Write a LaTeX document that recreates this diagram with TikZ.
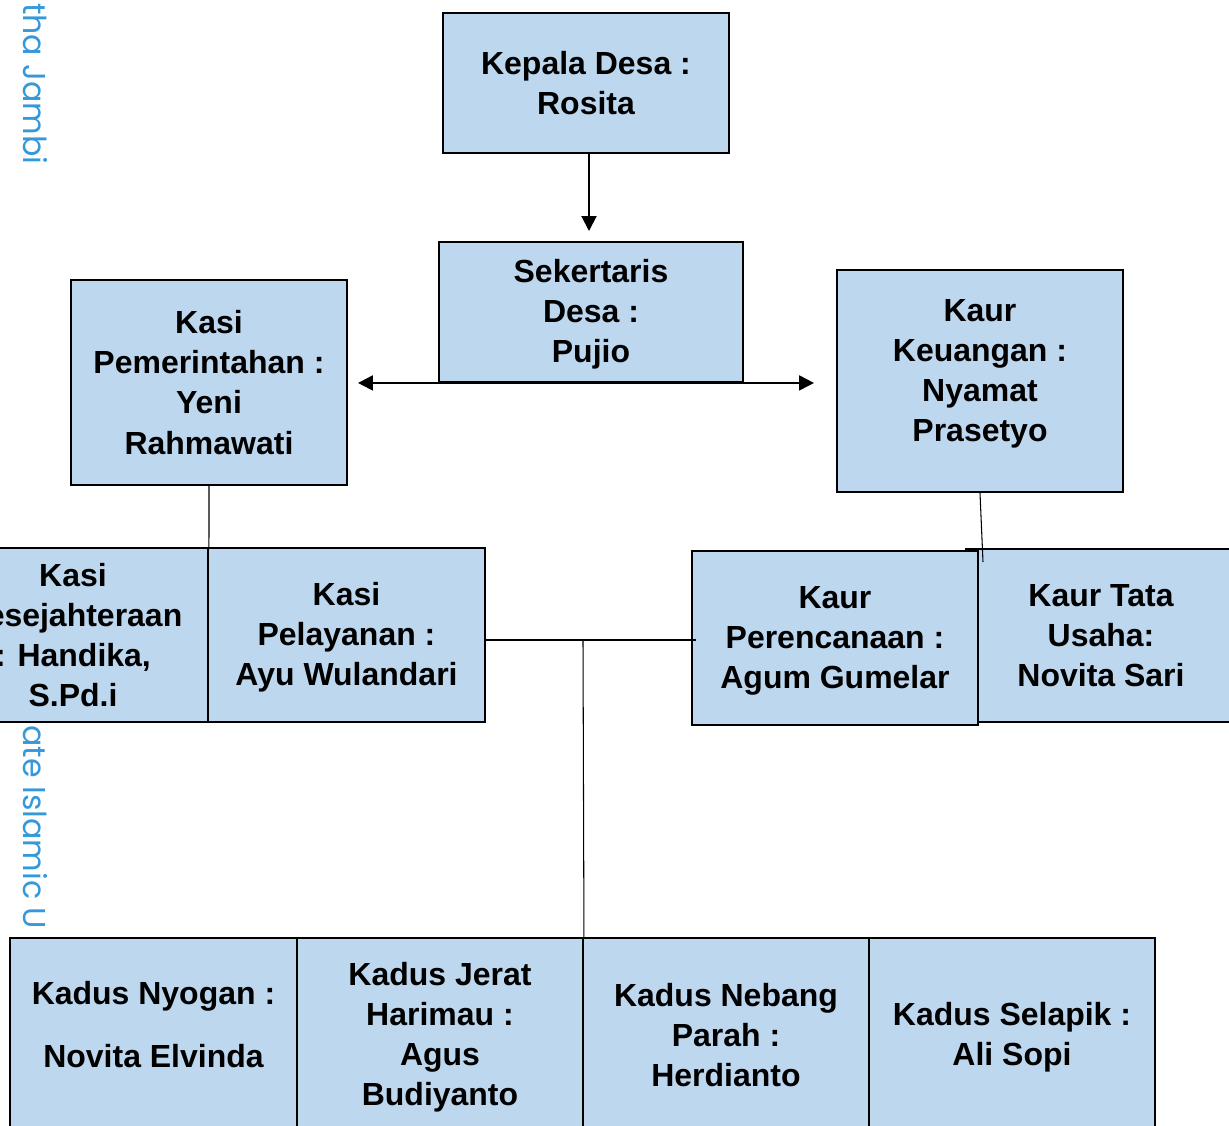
\documentclass[tikz,border=0pt]{standalone}
\usepackage{fontspec}
\setmainfont{Liberation Sans}
\newfontfamily\wmfont{Poppins}
\usetikzlibrary{arrows.meta,positioning,calc}
\definecolor{orgblue}{RGB}{189,215,238}
\definecolor{wmblue} {RGB}{52,152,219}

\begin{document}
\begin{tikzpicture}[
  >=Stealth,
  obox/.style 2 args={draw=black,line width=1.1pt,fill=orgblue,
                      minimum width=#1,minimum height=#2,inner sep=0pt},
  olabel/.style={font=\fontsize{18.2}{22.8}\selectfont\bfseries,align=center,inner sep=0pt},
  link/.style={line width=0.6pt},
  arr/.style={line width=1.1pt,-{Triangle[length=0.3cm,width=0.3cm]}},
  darr/.style={line width=1.1pt,{Triangle[length=0.3cm,width=0.3cm]}-{Triangle[length=0.3cm,width=0.3cm]}},
  wmark/.style={font=\wmfont\fontsize{18}{22}\selectfont,text=wmblue,rotate=-90,inner sep=0pt},
]
\useasboundingbox (0,0) rectangle (24.58,22.52);
\clip (0,0) rectangle (24.58,22.52);

%% ── watermark (behind the chart) ─────────────────────────────────────────────
\node[wmark,anchor=base east] (wmtop) at (0.46,19.22) {tha Jambi};
\node[wmark,anchor=base west] (wmbot) at (0.46,8.02) {ate Islamic U};

%% ── top: Kepala Desa and Sekertaris ──────────────────────────────────────────
\node[obox={5.72cm}{2.80cm}] (kepala) at (11.72,20.86) {};
\node[olabel] (kepalaT) at (kepala) {Kepala Desa :\\Rosita};

\node[obox={6.08cm}{2.80cm}] (sekertaris) at (11.82,16.28) {};
\node[olabel] (sekertarisT) at ([yshift=-0.04cm]sekertaris.center) {Sekertaris\\Desa :\\Pujio};

%% ── second level: Kasi Pemerintahan, Kaur Keuangan ──────────────────────────
\node[obox={5.52cm}{4.10cm}] (pemerintahan) at (4.18,14.87) {};
\node[olabel] (pemerintahanT) at (pemerintahan) {Kasi\\Pemerintahan :\\Yeni\\Rahmawati};

\node[obox={5.72cm}{4.44cm}] (keuangan) at (19.60,14.90) {};
\node[olabel] (keuanganT) at ([yshift=0.15cm]keuangan.center) {Kaur\\Keuangan :\\Nyamat\\Prasetyo};

%% ── third level: Kasi and Kaur ───────────────────────────────────────────────
\node[obox={5.52cm}{3.48cm}] (kesejahteraan) at (1.40,9.82) {};
\node[olabel] (kesejahteraanT) at ([xshift=0.06cm]kesejahteraan.center) {Kasi\\Kesejahteraan\\: Handika,\\S.Pd.i};

\node[obox={5.54cm}{3.48cm}] (pelayanan) at (6.93,9.82) {};
\node[olabel] (pelayananT) at ([yshift=-0.05cm]pelayanan.center) {Kasi\\Pelayanan :\\Ayu Wulandari};

\node[obox={5.32cm}{3.46cm}] (tatausaha) at (21.98,9.81) {};
\node[olabel] (tatausahaT) at ([xshift=0.04cm]tatausaha.center) {Kaur Tata\\Usaha:\\Novita Sari};

\node[obox={5.72cm}{3.48cm}] (perencanaan) at (16.70,9.76) {};
\node[olabel] (perencanaanT) at ([yshift=-0.05cm]perencanaan.center) {Kaur\\Perencanaan :\\Agum Gumelar};

%% ── bottom: Kadus ────────────────────────────────────────────────────────────
\node[obox={5.74cm}{3.88cm}] (nyogan) at (3.07,1.82) {};
\node[olabel] (nyoganT) at ([yshift=0.21cm]nyogan.center) {Kadus Nyogan :\\[0.46cm]Novita Elvinda};

\node[obox={5.72cm}{3.88cm}] (jerat) at (8.80,1.82) {};
\node[olabel] (jeratT) at ([yshift=-0.05cm]jerat.center) {Kadus Jerat\\Harimau :\\Agus\\Budiyanto};

\node[obox={5.72cm}{3.88cm}] (nebang) at (14.52,1.82) {};
\node[olabel] (nebangT) at (nebang) {Kadus Nebang\\Parah :\\Herdianto};

\node[obox={5.72cm}{3.88cm}] (selapik) at (20.24,1.82) {};
\node[olabel] (selapikT) at ([yshift=-0.05cm]selapik.center) {Kadus Selapik :\\Ali Sopi};

%% ── connectors ───────────────────────────────────────────────────────────────
\coordinate (hub) at (11.66,9.72);
\coordinate (kuEnd) at (19.66,11.28);

\draw[arr,shorten >=0.2cm] ([xshift=0.06cm]kepala.south) -- ([xshift=0.06cm]kepala.south |- sekertaris.north);
\draw[darr] ([xshift=0.2cm]pemerintahan.east |- sekertaris.south)
  -- ([xshift=-0.44cm]keuangan.west |- sekertaris.south);

\draw[link] (pemerintahan.south) -- (kesejahteraan.north east);
\draw[link] (keuangan.south) -- (kuEnd);
\draw[link] (pelayanan.east |- hub) -- ([xshift=0.1cm]perencanaan.west |- hub);
\draw[link] (hub) -- (jerat.north east);

\end{tikzpicture}
\end{document}
